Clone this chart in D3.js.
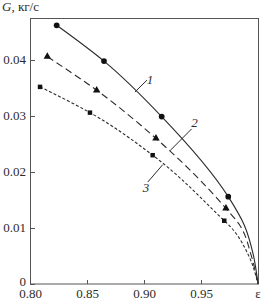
<!DOCTYPE html>
<html>
<head>
<meta charset="utf-8">
<script src="https://cdn.jsdelivr.net/npm/d3@7"></script>
<style>
  html, body { margin: 0; padding: 0; background: #fff; }
  svg { display: block; font-family: "Liberation Serif", "DejaVu Serif", serif; }
</style>
</head>
<body>
<div id="chart"></div>
<script>
// values
const xTicks = [0.80, 0.85, 0.90, 0.95];
const yTicks = [0, 0.01, 0.02, 0.03, 0.04];

// curve 1 (solid, circles)
const c1Eps = [0.8234, 0.8649, 0.9155, 0.9739, 0.9880, 0.9959, 1.0];
const c1G   = [0.0462, 0.0398, 0.0299, 0.0156, 0.0105, 0.0052, 0.0];
const m1Eps = [0.8234, 0.8649, 0.9155, 0.9739];
const m1G   = [0.0462, 0.0398, 0.0299, 0.0156];

// curve 2 (dashed, triangles)
const c2Eps = [0.8152, 0.8585, 0.9105, 0.9719, 0.9840, 0.9939, 1.0];
const c2G   = [0.0406, 0.0346, 0.0260, 0.0135, 0.0105, 0.0052, 0.0];
const m2Eps = [0.8152, 0.8585, 0.9105, 0.9719];
const m2G   = [0.0406, 0.0346, 0.0260, 0.0135];

// curve 3 (dotted, squares)
const c3Eps = [0.8088, 0.8526, 0.9076, 0.9704, 0.9745, 0.9915, 1.0];
const c3G   = [0.0352, 0.0306, 0.0230, 0.0113, 0.0105, 0.0052, 0.0];
const m3Eps = [0.8088, 0.8526, 0.9076, 0.9704];
const m3G   = [0.0352, 0.0306, 0.0230, 0.0113];

// curve labels with leader lines: [label, textEps, textG, fromEps, fromG, toEps, toG]
const labels = [
  ['1', 0.9053, 0.0366, 0.9026, 0.0364, 0.8921, 0.0343],
  ['2', 0.9443, 0.0288, 0.9418, 0.0277, 0.9228, 0.0238],
  ['3', 0.9018, 0.0173, 0.9033, 0.0182, 0.9164, 0.0213],
];

const W = 262, H = 305;
const m = { top: 18, right: 4, bottom: 21, left: 30 };
const iw = W - m.left - m.right;
const ih = H - m.top - m.bottom;
const ink = '#2b2b2b';

const svg = d3.select('#chart').append('svg').attr('width', W).attr('height', H);
const g = svg.append('g').attr('transform', `translate(${m.left},${m.top})`);

const x = d3.scaleLinear().domain([0.8, 1.0]).range([0, iw]);
const y = d3.scaleLinear().domain([0, 0.0475]).range([ih, 0]);

// frame
g.append('rect')
  .attr('x', 0.5).attr('y', 0.5)
  .attr('width', iw).attr('height', ih - 0.5)
  .attr('fill', 'none').attr('stroke', '#555').attr('stroke-width', 1);

// axes, ticks inside
const xAxis = g.append('g').attr('transform', `translate(0,${ih})`)
  .call(d3.axisBottom(x).tickValues(xTicks).tickSizeInner(-4).tickSizeOuter(0)
    .tickFormat(d3.format('.2f')));
const yAxis = g.append('g')
  .call(d3.axisLeft(y).tickValues(yTicks).tickSizeInner(-5).tickSizeOuter(0)
    .tickPadding(4).tickFormat((d) => (d === 0 ? '0' : d3.format('.2f')(d))));

[xAxis, yAxis].forEach((a) => {
  a.select('.domain').remove();
  a.selectAll('line').attr('stroke', '#555');
  a.selectAll('text').attr('fill', ink).attr('font-size', '13px')
    .attr('font-family', '"Liberation Serif", serif');
});
xAxis.selectAll('text').attr('y', 14).attr('dy', 0);
// the "0" sits just above the first x label, so lift it a touch
yAxis.selectAll('text').attr('dy', (d) => (d === 0 ? '0.1em' : '0.28em'));

// axis titles
svg.append('text')
  .attr('x', m.left + x(1.0)).attr('y', m.top + ih + 14)
  .attr('text-anchor', 'middle').attr('font-size', '13px').attr('fill', ink)
  .text('ε');

const yt = svg.append('text').attr('x', 2).attr('y', 11)
  .attr('font-size', '13px').attr('fill', ink);
yt.append('tspan').attr('font-style', 'italic').text('G');
yt.append('tspan').text(', кг/с');

// curves (monotone along the vertical so the steep end stays smooth)
const line = d3.line()
  .x((d) => x(d[0]))
  .y((d) => y(d[1]))
  .curve(d3.curveMonotoneY);

const series = [
  { eps: c1Eps, G: c1G, mEps: m1Eps, mG: m1G, dash: null, sym: d3.symbolCircle, size: 26 },
  { eps: c2Eps, G: c2G, mEps: m2Eps, mG: m2G, dash: '7,4', sym: d3.symbolTriangle, size: 24 },
  { eps: c3Eps, G: c3G, mEps: m3Eps, mG: m3G, dash: '3,2', sym: d3.symbolSquare, size: 20 },
];

series.forEach((s) => {
  g.append('path')
    .datum(s.eps.map((e, i) => [e, s.G[i]]))
    .attr('d', line)
    .attr('fill', 'none')
    .attr('stroke', ink)
    .attr('stroke-width', 1.1)
    .attr('stroke-dasharray', s.dash);

  g.selectAll(null)
    .data(s.mEps.map((e, i) => [e, s.mG[i]]))
    .join('path')
    .attr('transform', (d) => `translate(${x(d[0])},${y(d[1])})`)
    .attr('d', d3.symbol().type(s.sym).size(s.size))
    .attr('fill', '#111');
});

// labels + leaders
labels.forEach(([t, te, tg, fe, fg, le, lg]) => {
  g.append('line')
    .attr('x1', x(fe)).attr('y1', y(fg))
    .attr('x2', x(le)).attr('y2', y(lg))
    .attr('stroke', ink).attr('stroke-width', 1);
  g.append('text')
    .attr('x', x(te)).attr('y', y(tg))
    .attr('text-anchor', 'middle').attr('dy', '0.35em')
    .attr('font-size', '13px').attr('font-style', 'italic').attr('fill', ink)
    .text(t);
});
</script>
</body>
</html>
